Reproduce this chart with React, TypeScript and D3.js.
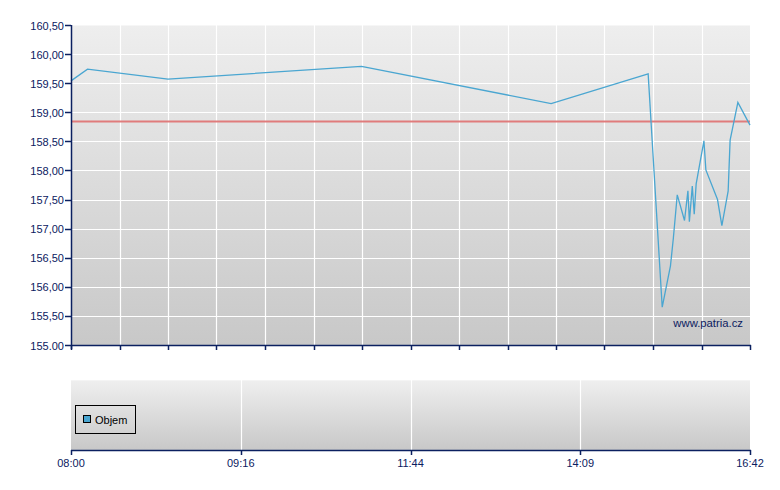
import * as d3 from 'd3';

// positions on the x axis are in grid slots (0..14), as the chart is not linear in time
const pricePos    = [0, 0.34, 2.0, 5.99, 9.90, 11.90, 12.19, 12.36, 12.42, 12.50, 12.65, 12.72, 12.75, 12.81, 12.85, 12.89, 13.05, 13.09, 13.33, 13.42, 13.55, 13.59, 13.75, 14.0];
const priceValues = [159.54, 159.74, 159.57, 159.79, 159.15, 159.66, 155.65, 156.36, 156.84, 157.58, 157.14, 157.65, 157.12, 157.73, 157.25, 157.77, 158.51, 158.01, 157.50, 157.05, 157.65, 158.52, 159.17, 158.78];
const refPrice    = 158.84;

const yTicks      = [155, 155.5, 156, 156.5, 157, 157.5, 158, 158.5, 159, 159.5, 160, 160.5];
const yTickLabels = ['155.00', '155,50', '156,00', '156,50', '157,00', '157,50', '158,00', '158,50', '159,00', '159,50', '160,00', '160,50'];
const xSlots      = d3.range(0, 15);
const xTimePos    = [0, 3.5, 7, 10.5, 14];
const xTimeLabels = ['08:00', '09:16', '11:44', '14:09', '16:42'];

const W = 780, H = 490;
const left = 71, right = 750;
const main = { top: 25, bottom: 345 };
const vol  = { top: 380, bottom: 450 };
const navy = '#0b2060';
const font = '"Liberation Sans", Arial, sans-serif';

export default function App() {
  const x = d3.scaleLinear().domain([0, 14]).range([left, right]);
  const y = d3.scaleLinear().domain([155, 160.5]).range([main.bottom, main.top]);

  const line = d3.line<number>()
    .x((_, i) => x(pricePos[i]))
    .y(d => y(d));

  const px = (v: number) => Math.round(v) + 0.5;

  return (
    <svg width={W} height={H} style={{ position: 'absolute', left: 0, top: 0, background: '#fff' }}
      fontFamily={font} fontSize={11}>
      <defs>
        <linearGradient id="bgMain" x1="0" y1="0" x2="0" y2="1">
          <stop offset="0" stopColor="#eeeeee" />
          <stop offset="1" stopColor="#c8c8c8" />
        </linearGradient>
        <linearGradient id="bgVol" x1="0" y1="0" x2="0" y2="1">
          <stop offset="0" stopColor="#efefef" />
          <stop offset="1" stopColor="#c8c8c8" />
        </linearGradient>
      </defs>

      {/* price panel */}
      <rect x={left} y={main.top} width={right - left} height={main.bottom - main.top} fill="url(#bgMain)" />
      <line x1={left} x2={right} y1={main.top + 0.5} y2={main.top + 0.5} stroke="#f6f6f6" />
      <g stroke="#ffffff" strokeWidth={1.2}>
        {yTicks.slice(1, -1).map(t => (
          <line key={t} x1={left} x2={right} y1={px(y(t))} y2={px(y(t))} />
        ))}
        {xSlots.slice(1, -1).map(s => (
          <line key={s} x1={px(x(s))} x2={px(x(s))} y1={main.top} y2={main.bottom} />
        ))}
      </g>

      <text x={743} y={327} fill={navy} textAnchor="end" fontSize={11.3}>www.patria.cz</text>

      <line x1={left} x2={right} y1={y(refPrice)} y2={y(refPrice)} stroke="#e07c7c" strokeWidth={2} />
      <path d={line(priceValues) ?? ''} fill="none" stroke="#4aa6d1" strokeWidth={1.3} />

      {/* axes of the price panel */}
      <g stroke={navy} strokeWidth={1.5}>
        <line x1={left + 0.5} x2={left + 0.5} y1={main.top} y2={main.bottom + 4} />
        {yTicks.map(t => (
          <line key={t} x1={left - 6} x2={left} y1={px(y(t))} y2={px(y(t))} />
        ))}
        <line x1={left} x2={right + 1} y1={main.bottom + 0.5} y2={main.bottom + 0.5} />
        {xSlots.map(s => (
          <line key={s} x1={px(x(s))} x2={px(x(s))} y1={main.bottom} y2={main.bottom + 5} />
        ))}
      </g>
      <g fill={navy} textAnchor="end">
        {yTicks.map((t, i) => (
          <text key={t} x={left - 7} y={y(t) + 4.5}>{yTickLabels[i]}</text>
        ))}
      </g>

      {/* volume panel */}
      <rect x={left} y={vol.top} width={right - left} height={vol.bottom - vol.top} fill="url(#bgVol)" />
      <line x1={left} x2={right} y1={vol.top + 0.5} y2={vol.top + 0.5} stroke="#f4f4f4" />
      <g stroke="#ffffff" strokeWidth={1.2}>
        {xTimePos.slice(1, -1).map(p => (
          <line key={p} x1={px(x(p))} x2={px(x(p))} y1={vol.top} y2={vol.bottom} />
        ))}
      </g>
      <g stroke={navy} strokeWidth={1.5}>
        <line x1={left} x2={right + 1} y1={vol.bottom + 0.5} y2={vol.bottom + 0.5} />
        {xTimePos.map(p => (
          <line key={p} x1={px(x(p))} x2={px(x(p))} y1={vol.bottom} y2={vol.bottom + 5} />
        ))}
      </g>
      <g fill={navy} textAnchor="middle">
        {xTimePos.map((p, i) => (
          <text key={p} x={x(p)} y={467}>{xTimeLabels[i]}</text>
        ))}
      </g>

      {/* legend */}
      <rect x={75.5} y={405.5} width={60} height={28} fill="none" stroke="#000" />
      <rect x={83.5} y={415.5} width={7} height={7} fill="#4aa6d1" stroke="#000" />
      <text x={95} y={424} fill="#000">Objem</text>
    </svg>
  );
}
